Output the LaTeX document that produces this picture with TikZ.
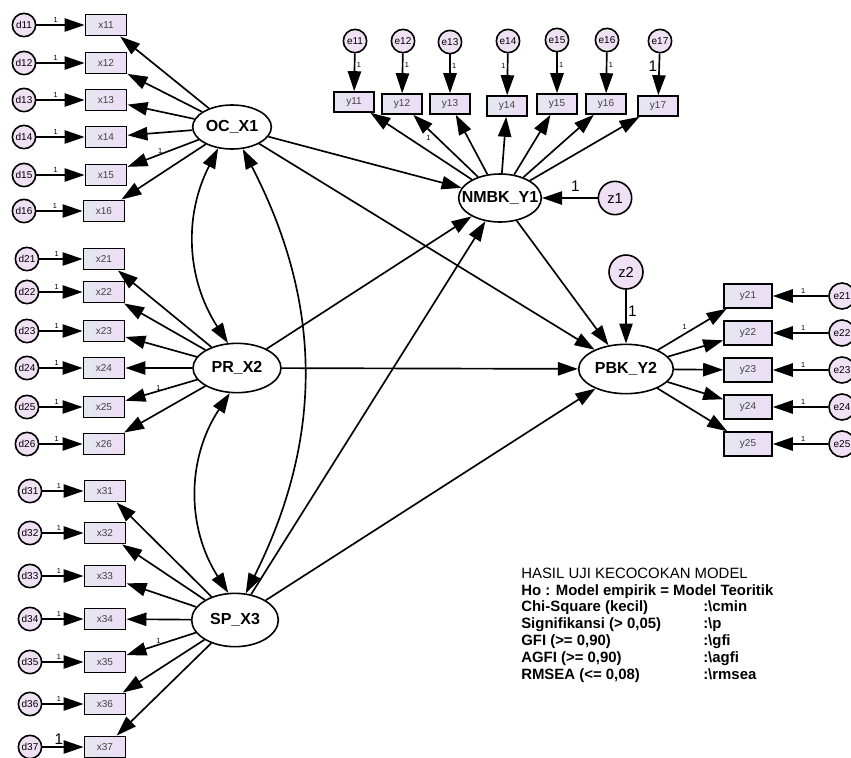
\documentclass[tikz,border=0pt]{standalone}
\usepackage{fontspec}
\setmainfont{Liberation Sans}
\usetikzlibrary{arrows.meta,shapes.geometric,positioning}
\definecolor{boxleft}{HTML}{E5E7F1}
\definecolor{boxright}{HTML}{EDDDF4}
\definecolor{errfill}{HTML}{F0E0F3}
\newcommand{\lv}[1]{\makebox[0pt]{#1}}

\begin{document}
\begin{tikzpicture}[x=0.75pt,y=-0.75pt,
  obs/.style={draw,line width=1.2pt,left color=boxleft,right color=boxright,minimum width=31pt,minimum height=16pt,inner sep=0pt,font=\fontsize{7.5}{8}\selectfont,text=black!75},
  err/.style={circle,draw,line width=1.2pt,fill=errfill,minimum size=17.5pt,inner sep=0pt,font=\fontsize{7.5}{8}\selectfont},
  lat/.style={ellipse,draw,line width=1.2pt,fill=white,minimum width=66pt,minimum height=37pt,inner sep=0pt,font=\bfseries\fontsize{12}{13}\selectfont},
  arr/.style={line width=1.25pt,-{Triangle[length=15pt,width=10pt]}},
  cov/.style={line width=1.25pt,{Triangle[length=15pt,width=10pt]}-{Triangle[length=15pt,width=10pt]}},
  one/.style={font=\fontsize{5.5}{6}\selectfont,inner sep=1pt},
  bigone/.style={font=\fontsize{11.5}{12}\selectfont,inner sep=1pt}]
\useasboundingbox (0,0) rectangle (851,758);
\clip (0,0) rectangle (851,758);

% Latent variables
\node[lat,minimum width=59pt,minimum height=33pt] (oc) at (232,127) {\lv{OC\_X1}};
\node[lat] (pr) at (237,368) {\lv{PR\_X2}};
\node[lat,minimum width=65pt,minimum height=40pt] (sp) at (235,620) {\lv{SP\_X3}};
\node[lat,minimum width=62pt,minimum height=36pt] (nmbk) at (500,198) {\lv{NMBK\_Y1}};
\node[lat,minimum width=71pt,minimum height=37pt] (pbk) at (626,369) {\lv{PBK\_Y2}};

% Indicators of OC_X1
\node[err] (d11) at (24,25) {d11};  \node[obs] (x11) at (106,25) {x11};
\node[err] (d12) at (24,63) {d12};  \node[obs] (x12) at (106,63) {x12};
\node[err] (d13) at (24,100) {d13}; \node[obs] (x13) at (106,100) {x13};
\node[err] (d14) at (24,137) {d14}; \node[obs] (x14) at (106,137) {x14};
\node[err] (d15) at (24,175) {d15}; \node[obs] (x15) at (106,175) {x15};
\node[err] (d16) at (24,211) {d16}; \node[obs] (x16) at (104,211) {x16};
\draw[arr] (d11) -- node[one,above,pos=0.4]{1} (x11);
\draw[arr] (d12) -- node[one,above,pos=0.4]{1} (x12);
\draw[arr] (d13) -- node[one,above,pos=0.4]{1} (x13);
\draw[arr] (d14) -- node[one,above,pos=0.4]{1} (x14);
\draw[arr] (d15) -- node[one,above,pos=0.4]{1} (x15);
\draw[arr] (d16) -- node[one,above,pos=0.4]{1} (x16);
\draw[arr] (oc) -- (x11); \draw[arr] (oc) -- (x12); \draw[arr] (oc) -- (x13);
\draw[arr] (oc) -- (x14);
\draw[arr] (oc) -- node[one,above right,pos=0.6]{1} (x15);
\draw[arr] (oc) -- (x16);

% Indicators of PR_X2
\node[err] (d21) at (27,259) {d21}; \node[obs] (x21) at (104,259) {x21};
\node[err] (d22) at (27,292) {d22}; \node[obs] (x22) at (104,292) {x22};
\node[err] (d23) at (27,331) {d23}; \node[obs] (x23) at (104,331) {x23};
\node[err] (d24) at (27,368) {d24}; \node[obs] (x24) at (104,368) {x24};
\node[err] (d25) at (27,407) {d25}; \node[obs] (x25) at (104,407) {x25};
\node[err] (d26) at (27,444) {d26}; \node[obs] (x26) at (104,444) {x26};
\draw[arr] (d21) -- node[one,above,pos=0.4]{1} (x21);
\draw[arr] (d22) -- node[one,above,pos=0.4]{1} (x22);
\draw[arr] (d23) -- node[one,above,pos=0.4]{1} (x23);
\draw[arr] (d24) -- node[one,above,pos=0.4]{1} (x24);
\draw[arr] (d25) -- node[one,above,pos=0.4]{1} (x25);
\draw[arr] (d26) -- node[one,above,pos=0.4]{1} (x26);
\draw[arr] (pr) -- (x21); \draw[arr] (pr) -- (x22); \draw[arr] (pr) -- (x23);
\draw[arr] (pr) -- (x24);
\draw[arr] (pr) -- node[one,above right,pos=0.6]{1} (x25);
\draw[arr] (pr) -- (x26);

% Indicators of SP_X3
\node[err] (d31) at (30,491) {d31}; \node[obs] (x31) at (105,491) {x31};
\node[err] (d32) at (30,533) {d32}; \node[obs] (x32) at (105,533) {x32};
\node[err] (d33) at (30,576) {d33}; \node[obs] (x33) at (105,576) {x33};
\node[err] (d34) at (30,619) {d34}; \node[obs] (x34) at (105,619) {x34};
\node[err] (d35) at (30,662) {d35}; \node[obs] (x35) at (105,662) {x35};
\node[err] (d36) at (30,704) {d36}; \node[obs] (x36) at (105,704) {x36};
\node[err] (d37) at (30,747) {d37}; \node[obs] (x37) at (105,747) {x37};
\draw[arr] (d31) -- node[one,above,pos=0.4]{1} (x31);
\draw[arr] (d32) -- node[one,above,pos=0.4]{1} (x32);
\draw[arr] (d33) -- node[one,above,pos=0.4]{1} (x33);
\draw[arr] (d34) -- node[one,above,pos=0.4]{1} (x34);
\draw[arr] (d35) -- node[one,above,pos=0.4]{1} (x35);
\draw[arr] (d36) -- node[one,above,pos=0.4]{1} (x36);
\draw[arr] (d37) -- node[bigone,above,pos=0.4]{1} (x37);
\draw[arr] (sp) -- (x31); \draw[arr] (sp) -- (x32); \draw[arr] (sp) -- (x33);
\draw[arr] (sp) -- (x34);
\draw[arr] (sp) -- node[one,above right,pos=0.6]{1} (x35);
\draw[arr] (sp) -- (x36); \draw[arr] (sp) -- (x37);

% Covariances
\draw[cov] (oc.237) to[bend right=30] (pr.110);
\draw[cov] (oc.296) to[bend left=27] (sp.68);
\draw[cov] (pr.254) to[bend right=33] (sp.104);

% Indicators of NMBK_Y1
\node[err] (e11) at (355,41) {e11}; \node[obs,minimum width=30pt,minimum height=15pt] (y11) at (354,102) {y11};
\node[err] (e12) at (403,41) {e12}; \node[obs,minimum width=30pt,minimum height=15pt] (y12) at (402,104) {y12};
\node[err] (e13) at (450,42) {e13}; \node[obs,minimum width=30pt,minimum height=15pt] (y13) at (450,104) {y13};
\node[err] (e14) at (508,41) {e14}; \node[obs,minimum width=30pt,minimum height=15pt] (y14) at (507,106) {y14};
\node[err] (e15) at (557,40) {e15}; \node[obs,minimum width=30pt,minimum height=15pt] (y15) at (557,104) {y15};
\node[err] (e16) at (607,40) {e16}; \node[obs,minimum width=30pt,minimum height=15pt] (y16) at (606,104) {y16};
\node[err] (e17) at (660,41) {e17}; \node[obs,minimum width=30pt,minimum height=15pt] (y17) at (658,106) {y17};
\draw[arr] (e11) -- node[one,right,pos=0.3]{1} (y11);
\draw[arr] (e12) -- node[one,right,pos=0.3]{1} (y12);
\draw[arr] (e13) -- node[one,right,pos=0.3]{1} (y13);
\draw[arr] (e14) -- node[one,left,pos=0.3]{1} (y14);
\draw[arr] (e15) -- node[one,right,pos=0.3]{1} (y15);
\draw[arr] (e16) -- node[one,right,pos=0.3]{1} (y16);
\draw[arr] (e17) -- node[bigone,left,pos=0.3]{1} (y17);
\draw[arr] (nmbk) -- (y11);
\draw[arr] (nmbk) -- node[one,below left,pos=0.7]{1} (y12);
\draw[arr] (nmbk) -- (y13); \draw[arr] (nmbk) -- (y14); \draw[arr] (nmbk) -- (y15);
\draw[arr] (nmbk) -- (y16); \draw[arr] (nmbk) -- (y17);

% Indicators of PBK_Y2
\node[obs,minimum width=36pt,minimum height=18pt] (y21) at (748,296) {y21}; \node[err,minimum size=19.5pt] (e21) at (842,296) {e21};
\node[obs,minimum width=36pt,minimum height=18pt] (y22) at (748,333) {y22}; \node[err,minimum size=19.5pt] (e22) at (842,333) {e22};
\node[obs,minimum width=36pt,minimum height=18pt] (y23) at (748,370) {y23}; \node[err,minimum size=19.5pt] (e23) at (842,370) {e23};
\node[obs,minimum width=36pt,minimum height=18pt] (y24) at (748,407) {y24}; \node[err,minimum size=19.5pt] (e24) at (842,407) {e24};
\node[obs,minimum width=36pt,minimum height=18pt] (y25) at (748,444) {y25}; \node[err,minimum size=19.5pt] (e25) at (842,444) {e25};
\draw[arr] (e21) -- node[one,above,pos=0.45]{1} (y21);
\draw[arr] (e22) -- node[one,above,pos=0.45]{1} (y22);
\draw[arr] (e23) -- node[one,above,pos=0.45]{1} (y23);
\draw[arr] (e24) -- node[one,above,pos=0.45]{1} (y24);
\draw[arr] (e25) -- node[one,above,pos=0.45]{1} (y25);
\draw[arr] (pbk) -- node[one,above left,pos=0.45]{1} (y21);
\draw[arr] (pbk) -- (y22); \draw[arr] (pbk) -- (y23);
\draw[arr] (pbk) -- (y24); \draw[arr] (pbk) -- (y25);

% Disturbances
\node[err,minimum size=25pt,font=\fontsize{11}{12}\selectfont] (z1) at (615,198) {z1};
\node[err,minimum size=25.5pt,font=\fontsize{11}{12}\selectfont] (z2) at (626,272) {z2};
\draw[arr] (z1) -- node[bigone,above=3pt,pos=0.4]{1} (nmbk);
\draw[arr] (z2) -- node[bigone,right,pos=0.4]{1} (pbk);

% Structural paths
\draw[arr] (oc) -- (nmbk); \draw[arr] (oc) -- (pbk);
\draw[arr] (pr) -- (nmbk); \draw[arr] (pr) -- (pbk);
\draw[arr] (sp) -- (nmbk); \draw[arr] (sp) -- (pbk);
\draw[arr] (nmbk) -- (pbk);

% Fit summary
\node[anchor=north west,inner sep=0pt,font=\fontsize{11.2}{12.7}\selectfont] (fit) at (521,566) {%
\begin{tabular}{@{}p{136.5pt}@{}l@{}}
\multicolumn{2}{@{}l@{}}{HASIL UJI KECOCOKAN MODEL}\\
\multicolumn{2}{@{}l@{}}{\bfseries Ho : Model empirik = Model Teoritik}\\
\bfseries Chi-Square (kecil) & \bfseries :\textbackslash cmin\\
\bfseries Signifikansi (> 0,05) & \bfseries :\textbackslash p\\
\bfseries GFI (>= 0,90) & \bfseries :\textbackslash gfi\\
\bfseries AGFI (>= 0,90) & \bfseries :\textbackslash agfi\\
\bfseries RMSEA (<= 0,08) & \bfseries :\textbackslash rmsea
\end{tabular}};
\end{tikzpicture}
\end{document}
